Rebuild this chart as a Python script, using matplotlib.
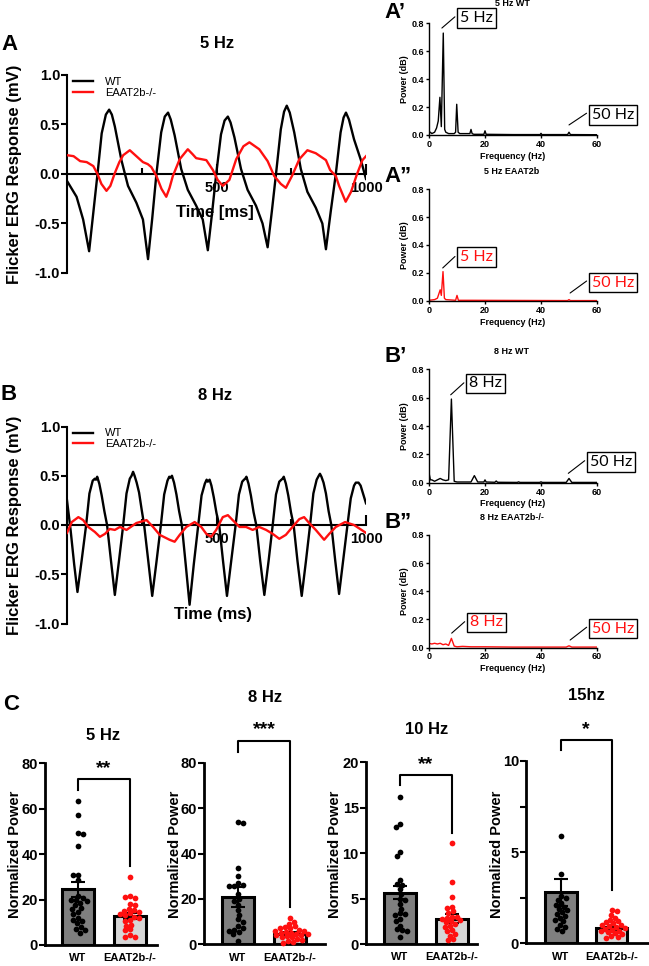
import numpy as np
import matplotlib
matplotlib.use('Agg')
import matplotlib.pyplot as plt

W, H = 649, 966
RED = '#ff1010'
DARK = '#7f7f7f'
LIGHT = '#d6d6d6'

plt.rcParams['font.family'] = ['Liberation Sans', 'DejaVu Sans']
plt.rcParams['font.weight'] = 'bold'
plt.rcParams['axes.labelweight'] = 'bold'
plt.rcParams['axes.unicode_minus'] = False

# ---- A: 5 Hz flicker traces (ms, mV) ----
a_wt_t = [0, 32, 54, 74, 88, 102, 116, 130, 141, 150, 160, 182, 204, 232, 254, 271,
          285, 299, 315, 327, 338, 347, 360, 382, 404, 432, 454, 471,
          485, 499, 515, 527, 538, 547, 560, 582, 604, 632, 654, 671,
          685, 699, 715, 726, 735, 745, 760, 782, 804, 832, 854, 866,
          882, 899, 915, 925, 933, 943, 960, 983, 1000]
a_wt = [-0.07, -0.23, -0.46, -0.78, -0.39, 0.00, 0.41, 0.60, 0.65, 0.60, 0.48, 0.14, -0.12, -0.29, -0.46, -0.86,
        -0.45, 0.00, 0.42, 0.58, 0.62, 0.55, 0.39, 0.05, -0.16, -0.32, -0.46, -0.77,
        -0.40, 0.00, 0.40, 0.54, 0.58, 0.52, 0.37, 0.05, -0.16, -0.32, -0.50, -0.74,
        -0.38, 0.00, 0.45, 0.63, 0.69, 0.62, 0.42, 0.05, -0.18, -0.34, -0.50, -0.76,
        -0.38, 0.00, 0.42, 0.57, 0.62, 0.55, 0.35, 0.14, -0.05]
a_ko_t = [0, 22, 44, 66, 88, 102, 115, 132, 145, 160, 175, 188, 210, 232, 254, 270, 282, 299,
          316, 332, 343, 354, 377, 404, 420, 432, 466, 488, 504, 521, 543, 566, 590, 610, 643,
          671, 693, 715, 732, 754, 777, 804, 832, 866, 880, 899, 910, 932, 950, 970, 988, 1000]
a_ko = [0.19, 0.18, 0.13, 0.12, 0.08, 0.00, -0.10, -0.17, -0.12, 0.01, 0.12, 0.19, 0.24, 0.18, 0.12, 0.10, 0.07, -0.02,
        -0.15, -0.23, -0.14, -0.02, 0.15, 0.25, 0.20, 0.16, 0.14, 0.04, -0.06, -0.12, -0.06, 0.15, 0.28, 0.32, 0.25,
        0.13, -0.02, -0.10, -0.14, -0.01, 0.15, 0.24, 0.21, 0.14, 0.04, -0.02, -0.12, -0.28, -0.18, 0.00, 0.14, 0.18]

# ---- B: 8 Hz flicker traces ----
b_wt_t = [0, 12, 24, 35,
          49, 64, 75, 86, 93, 97, 101, 108, 116, 125, 134, 147, 160,
          174, 188, 199, 210, 216, 221, 226, 233, 241, 250, 258, 272, 285,
          299, 314, 325, 336, 342, 346, 351, 358, 366, 375, 384, 397, 410,
          424, 439, 450, 461, 467, 471, 477, 483, 491, 500, 509, 522, 535,
          549, 564, 575, 586, 592, 596, 600, 607, 615, 624, 633, 646, 660,
          674, 688, 699, 710, 717, 721, 725, 732, 740, 749, 758, 771, 785,
          799, 813, 824, 835, 842, 846, 851, 858, 866, 875, 884, 897, 910,
          924, 938, 949, 960, 966, 975, 982, 990, 1000]
b_wt = [0.25, -0.05, -0.40, -0.68,
        -0.36, 0.00, 0.32, 0.45, 0.47, 0.46, 0.49, 0.42, 0.30, 0.14, 0.00, -0.36, -0.71,
        -0.36, 0.00, 0.32, 0.47, 0.50, 0.54, 0.50, 0.43, 0.33, 0.15, 0.00, -0.37, -0.72,
        -0.38, 0.00, 0.31, 0.45, 0.49, 0.48, 0.50, 0.43, 0.31, 0.14, 0.00, -0.40, -0.81,
        -0.40, 0.00, 0.30, 0.42, 0.46, 0.44, 0.46, 0.40, 0.28, 0.12, 0.00, -0.37, -0.72,
        -0.37, 0.00, 0.31, 0.44, 0.46, 0.47, 0.49, 0.42, 0.30, 0.13, 0.00, -0.36, -0.71,
        -0.37, 0.00, 0.31, 0.44, 0.46, 0.47, 0.49, 0.42, 0.30, 0.13, 0.00, -0.37, -0.72,
        -0.37, 0.00, 0.32, 0.46, 0.50, 0.52, 0.49, 0.43, 0.32, 0.14, 0.00, -0.36, -0.70,
        -0.35, 0.00, 0.27, 0.40, 0.43, 0.43, 0.40, 0.32, 0.22]
b_ko_t = [0, 16, 38, 54, 71, 93, 110, 127, 143, 160, 177, 199, 232, 266, 288, 310, 343, 360, 377, 399,
          427, 449, 466, 482, 499, 521, 538, 554, 577, 599, 621, 643, 666, 688, 710, 732, 754, 777,
          793, 810, 832, 860, 877, 899, 930, 960, 980, 1000]
b_ko = [-0.08, 0.03, 0.08, 0.05, -0.02, -0.07, -0.12, -0.09, -0.04, -0.05, -0.02, -0.05, 0.02, 0.05, -0.02,
        -0.10, -0.15, -0.17, -0.10, -0.02, 0.03, -0.02, -0.09, -0.12, -0.05, 0.08, 0.10, 0.05, -0.02, -0.02,
        -0.05, -0.02, -0.05, -0.09, -0.14, -0.10, -0.02, 0.06, 0.08, 0.02, -0.05, -0.15, -0.09, -0.02, 0.03,
        0.00, -0.04, -0.08]

# ---- power spectra (Hz, dB) ----
sa_wt_f = [0, 0.5, 1, 2, 2.7, 3.3, 3.9, 4.4, 5.1, 5.6, 6, 7, 9, 9.5, 9.9, 10.4, 11, 14, 14.6, 15, 15.4, 16,
           19.6, 20, 20.4, 30, 39.7, 40, 40.3, 49.5, 50, 50.5, 60]
sa_wt = [0.01, 0.02, 0.01, 0.02, 0.05, 0.10, 0.27, 0.06, 0.73, 0.04, 0.02, 0.01, 0.01, 0.02, 0.22, 0.02, 0.01,
         0.01, 0.01, 0.04, 0.01, 0.005, 0.005, 0.03, 0.005, 0.003, 0.003, 0.012, 0.003, 0.003, 0.02, 0.003, 0.002]
sa_ko_f = [0, 2, 3, 3.5, 4, 4.4, 5, 5.5, 6, 9.5, 10, 10.5, 15, 49.5, 50, 50.5, 60]
sa_ko = [0.005, 0.01, 0.02, 0.05, 0.08, 0.04, 0.21, 0.02, 0.01, 0.005, 0.04, 0.005, 0.005, 0.003, 0.01, 0.003, 0.003]
sb_wt_f = [0, 0.5, 1, 2, 3, 4, 5, 6, 7, 8, 9, 10, 15, 16.2, 17.4, 19.6, 20, 20.4, 23.5, 24, 24.5,
           31.5, 32, 32.5, 39.5, 40, 40.5, 49, 50, 51, 60]
sb_wt = [0.07, 0.02, 0.02, 0.01, 0.02, 0.03, 0.02, 0.015, 0.02, 0.59, 0.01, 0.005, 0.005, 0.05, 0.005, 0.005,
         0.02, 0.005, 0.003, 0.012, 0.003, 0.002, 0.006, 0.002, 0.002, 0.006, 0.002, 0.002, 0.03, 0.002, 0.002]
sb_ko_f = [0, 1, 2, 3, 4, 5, 6, 7, 8, 9, 10, 12, 15, 20, 30, 49, 50, 51, 60]
sb_ko = [0.03, 0.025, 0.03, 0.025, 0.03, 0.02, 0.025, 0.015, 0.065, 0.01, 0.005, 0.008, 0.005, 0.005, 0.003,
         0.003, 0.012, 0.003, 0.003]

# ---- C: normalized power per animal ----
c_groups = ['WT', 'EAAT2b-/-']
c5_wt = [63.5, 57.2, 49.5, 48.8, 43.6, 30.8, 30.8, 28.5, 21.5, 20.5, 19.6, 19.6, 19.2, 18.5, 17.5, 16.5,
         15.8, 14.5, 13.5, 12.0, 11.0, 10.5, 9.5, 8.0, 7.0, 6.5, 5.5]
c5_ko = [30.0, 21.5, 21.0, 20.5, 18.0, 17.5, 16.0, 15.5, 15.0, 14.5, 14.0, 13.5, 13.0, 12.5, 12.0, 11.0,
         10.5, 9.0, 8.5, 7.0, 6.5, 4.5, 3.5, 3.5]
c8_wt = [54.0, 53.5, 33.5, 30.0, 27.0, 26.0, 25.8, 25.5, 22.0, 20.0, 19.0, 17.5, 15.0, 13.0, 11.0, 10.0,
         8.0, 7.0, 6.5, 6.0, 5.5, 4.5, 1.5]
c8_ko = [11.5, 10.0, 9.0, 8.0, 7.5, 7.0, 7.0, 6.5, 6.0, 6.0, 5.5, 5.0, 5.0, 4.5, 4.5, 4.0, 4.0, 3.5, 3.0,
         3.0, 2.5, 2.0, 1.5, 1.0, 0.5]
c10_wt = [16.2, 13.2, 12.9, 10.1, 9.7, 7.0, 6.6, 6.5, 6.0, 5.5, 5.0, 4.8, 4.4, 3.9, 3.4, 3.3, 3.2, 2.8,
          2.5, 2.0, 1.6, 1.5, 1.4, 0.8]
c10_ko = [11.1, 6.8, 5.2, 4.1, 4.0, 3.6, 3.4, 3.0, 3.0, 2.9, 2.8, 2.6, 2.5, 2.4, 2.2, 2.0, 1.9, 1.5, 1.4,
          1.1, 0.9, 0.5, 0.4]
c15_wt = [5.9, 3.8, 2.6, 2.5, 2.4, 2.2, 2.1, 2.0, 1.9, 1.8, 1.7, 1.6, 1.5, 1.4, 1.3, 1.2, 1.0, 0.9, 0.8, 0.7]
c15_ko = [1.8, 1.75, 1.55, 1.4, 1.3, 1.2, 1.15, 1.1, 1.0, 1.0, 0.95, 0.9, 0.85, 0.8, 0.75, 0.7, 0.65, 0.6,
          0.55, 0.5, 0.4, 0.35, 0.3]
c_means = [[24.5, 12.8], [20.8, 4.6], [5.65, 2.8], [2.8, 0.82]]
c_sems = [[3.4, 1.4], [4.3, 0.6], [0.75, 0.5], [0.75, 0.1]]
c_brackets = [[68.3, 73.0, 34.8], [84.8, 89.7, 16.6], [17.5, 18.6, 12.25], [10.6, 11.15, 2.9]]
c_stars = ['**', '***', '**', '*']
c_titles = ['5 Hz', '8 Hz', '10 Hz', '15hz']

fig = plt.figure(figsize=(W / 100, H / 100), dpi=100)


def px_axes(left, top, right, bottom):
    return fig.add_axes([left / W, 1 - bottom / H, (right - left) / W, (bottom - top) / H])


def label(x, y, s, size, **kw):
    kw.setdefault('ha', 'center')
    kw.setdefault('va', 'center')
    fig.text(x / W, 1 - y / H, s, fontsize=size, **kw)


def trace_panel(top, bottom, t_wt, v_wt, t_ko, v_ko):
    ax = px_axes(67, top, 366, bottom)
    ax.plot(t_wt, v_wt, color='black', lw=1.7, label='WT', zorder=3)
    ax.plot(t_ko, v_ko, color=RED, lw=1.7, label='EAAT2b-/-', zorder=3)
    ax.set_xlim(0, 1000)
    ax.set_ylim(-1, 1)
    ax.patch.set_visible(False)
    ax.spines[['top', 'right']].set_visible(False)
    ax.spines['bottom'].set_position(('data', 0))
    ax.spines[['left', 'bottom']].set_linewidth(1.5)
    ax.set_xticks([500, 1000])
    ax.set_xticks([250, 750], minor=True)
    ax.tick_params(axis='x', which='both', direction='in', width=1.5, labelsize=10.5, pad=5)
    ax.tick_params(axis='x', which='major', length=7)
    ax.tick_params(axis='x', which='minor', length=4)
    ax.set_yticks([-1, -0.5, 0, 0.5, 1])
    ax.yaxis.set_major_formatter('{x:.1f}')
    ax.tick_params(axis='y', direction='out', length=4, width=1.5, labelsize=10.5, pad=1)
    ax.legend(loc='upper left', bbox_to_anchor=(0.02, 0.99), frameon=False,
              prop={'weight': 'normal', 'size': 8}, handlelength=1.8, handletextpad=1.1,
              labelspacing=0.05, borderaxespad=0, borderpad=0)
    return ax


def fft_panel(top, bottom, f, p, color):
    ax = px_axes(429, top, 597, bottom)
    ax.plot(f, p, color=color, lw=1.0)
    ax.set_xlim(0, 60)
    ax.set_ylim(0, 0.8)
    ax.set_xticks([0, 20, 40, 60])
    ax.set_yticks([0, 0.2, 0.4, 0.6, 0.8])
    ax.yaxis.set_major_formatter('{x:.1f}')
    ax.patch.set_visible(False)
    ax.spines[['top', 'right']].set_visible(False)
    ax.spines[['left', 'bottom']].set_linewidth(1.0)
    ax.tick_params(length=2.5, width=1, labelsize=6.5, pad=1)
    ax.set_xlabel('Frequency (Hz)', fontsize=6.5, labelpad=2)
    ax.set_ylabel('Power (dB)', fontsize=6.5, labelpad=2)
    return ax


def peak_note(ax, text, color, xy, xytext):
    ax.annotate(text, xy=xy, xytext=xytext, ha='left', va='center', color=color,
                fontsize=11.5, fontweight='normal', family='Lato',
                bbox=dict(boxstyle='square,pad=0.18', fc='white', ec='black', lw=1),
                arrowprops=dict(arrowstyle='-', color='black', lw=0.8, relpos=(0, 0.9),
                                shrinkA=2, shrinkB=0),
                annotation_clip=False)


def swarm(vals, ppu_y, ppu_x, dot=4.6):
    placed = []
    out = []
    for v in vals:
        y = v * ppu_y
        k = 0
        while True:
            cands = [0.0] if k == 0 else [-float(k), float(k)]
            ok = [c for c in cands
                  if all((c - px) ** 2 + (y - py) ** 2 >= dot ** 2 for px, py in placed)]
            if ok:
                x = ok[len(placed) % len(ok)]
                break
            k += 1
        placed.append((x, y))
        out.append(x / ppu_x)
    return np.array(out)


def bar_panel(i, left, right, top, bottom, xlim, ymax, yticks, minor, wt, ko):
    ax = px_axes(left, top, right, bottom)
    means, sems = c_means[i], c_sems[i]
    ax.bar([0, 1], means, width=0.62, color=[DARK, LIGHT], edgecolor='black', linewidth=2.2, zorder=1)
    ax.errorbar([0, 1], means, yerr=sems, fmt='none', ecolor='black', elinewidth=1.5,
                capsize=5, capthick=1.5, zorder=2)
    ppu_y = (bottom - top) / ymax
    ppu_x = (right - left) / (xlim[1] - xlim[0])
    for j, (vals, col) in enumerate([(wt, 'black'), (ko, RED)]):
        ax.scatter(j + swarm(vals, ppu_y, ppu_x), vals, s=17, color=col, linewidths=0,
                   zorder=3, clip_on=False)
    b0, bt, b1 = c_brackets[i]
    ax.plot([0, 0, 1, 1], [b0, bt, bt, b1], color='black', lw=1.5, clip_on=False)
    ax.text(0.5, bt + ymax * 0.012, c_stars[i], ha='center', va='bottom', fontsize=14)
    ax.set_xlim(*xlim)
    ax.set_ylim(0, ymax)
    ax.set_xticks([0, 1])
    ax.set_xticklabels(c_groups)
    ax.set_yticks(yticks)
    if minor:
        ax.set_yticks(minor, minor=True)
    ax.patch.set_visible(False)
    ax.spines[['top', 'right']].set_visible(False)
    ax.spines[['left', 'bottom']].set_linewidth(2)
    ax.tick_params(axis='x', length=0, labelsize=8, pad=6)
    ax.tick_params(axis='y', which='both', length=4, width=1.5, labelsize=10.5, pad=1)
    return ax


# A and B traces
trace_panel(75, 273, a_wt_t, a_wt, a_ko_t, a_ko)
trace_panel(426.5, 623.5, b_wt_t, b_wt, b_ko_t, b_ko)
label(9, 45, 'A', 16)
label(217, 43, '5 Hz', 12)
label(215, 212, 'Time [ms]', 12)
label(15, 174, 'Flicker ERG Response (mV)', 12, rotation=90)
label(9, 395, 'B', 16)
label(215, 395, '8 Hz', 12)
label(213, 615, 'Time (ms)', 12)
label(15, 525, 'Flicker ERG Response (mV)', 12, rotation=90)

# spectra
ax = fft_panel(23.3, 135, sa_wt_f, sa_wt, 'black')
peak_note(ax, '5 Hz', 'black', (4.6, 0.766), (11.2, 0.84))
peak_note(ax, '50 Hz', 'black', (50, 0.072), (58.3, 0.143))
ax = fft_panel(189, 301, sa_ko_f, sa_ko, RED)
peak_note(ax, '5 Hz', RED, (4.9, 0.236), (11.2, 0.314))
peak_note(ax, '50 Hz', RED, (50.4, 0.057), (58.3, 0.132))
ax = fft_panel(369.3, 482.7, sb_wt_f, sb_wt, 'black')
peak_note(ax, '8 Hz', 'black', (7.75, 0.62), (14.4, 0.70))
peak_note(ax, '50 Hz', 'black', (49.75, 0.066), (57.6, 0.146))
ax = fft_panel(535, 647.5, sb_ko_f, sb_ko, RED)
peak_note(ax, '8 Hz', RED, (8.1, 0.102), (14.7, 0.178))
peak_note(ax, '50 Hz', RED, (50.4, 0.053), (58.3, 0.135))
label(512, 4, '5 Hz WT', 6.5)
label(512, 171, '5 Hz EAAT2b', 6.5)
label(512, 352, '8 Hz WT', 6.5)
label(512, 517, '8 Hz EAAT2b-/-', 6.5)
label(384, 12, 'A\u2019', 16, ha='left')
label(384, 176, 'A\u201d', 16, ha='left')
label(384, 356, 'B\u2019', 16, ha='left')
label(384, 522, 'B\u201d', 16, ha='left')

# C bar charts
bar_panel(0, 45, 157, 763.3, 945, (-0.635, 1.52), 80, [0, 20, 40, 60, 80], None, c5_wt, c5_ko)
bar_panel(1, 204, 325, 762.7, 944.3, (-0.654, 1.67), 80, [0, 20, 40, 60, 80], None, c8_wt, c8_ko)
bar_panel(2, 365.7, 476.7, 762.3, 944, (-0.66, 1.48), 20, [0, 5, 10, 15, 20], None, c10_wt, c10_ko)
bar_panel(3, 526, 649, 761, 943.3, (-0.69, 1.74), 10, [0, 5, 10], [2.5, 7.5], c15_wt, c15_ko)
label(11, 705, 'C', 16)
for x, y, t in zip([103, 265, 426.7, 586.7], [735, 697, 730, 696], c_titles):
    label(x, y, t, 12)
for x in [15, 175, 335, 496.7]:
    label(x, 854, 'Normalized Power', 10.5, rotation=90)

fig.savefig('out.png', dpi=100)
